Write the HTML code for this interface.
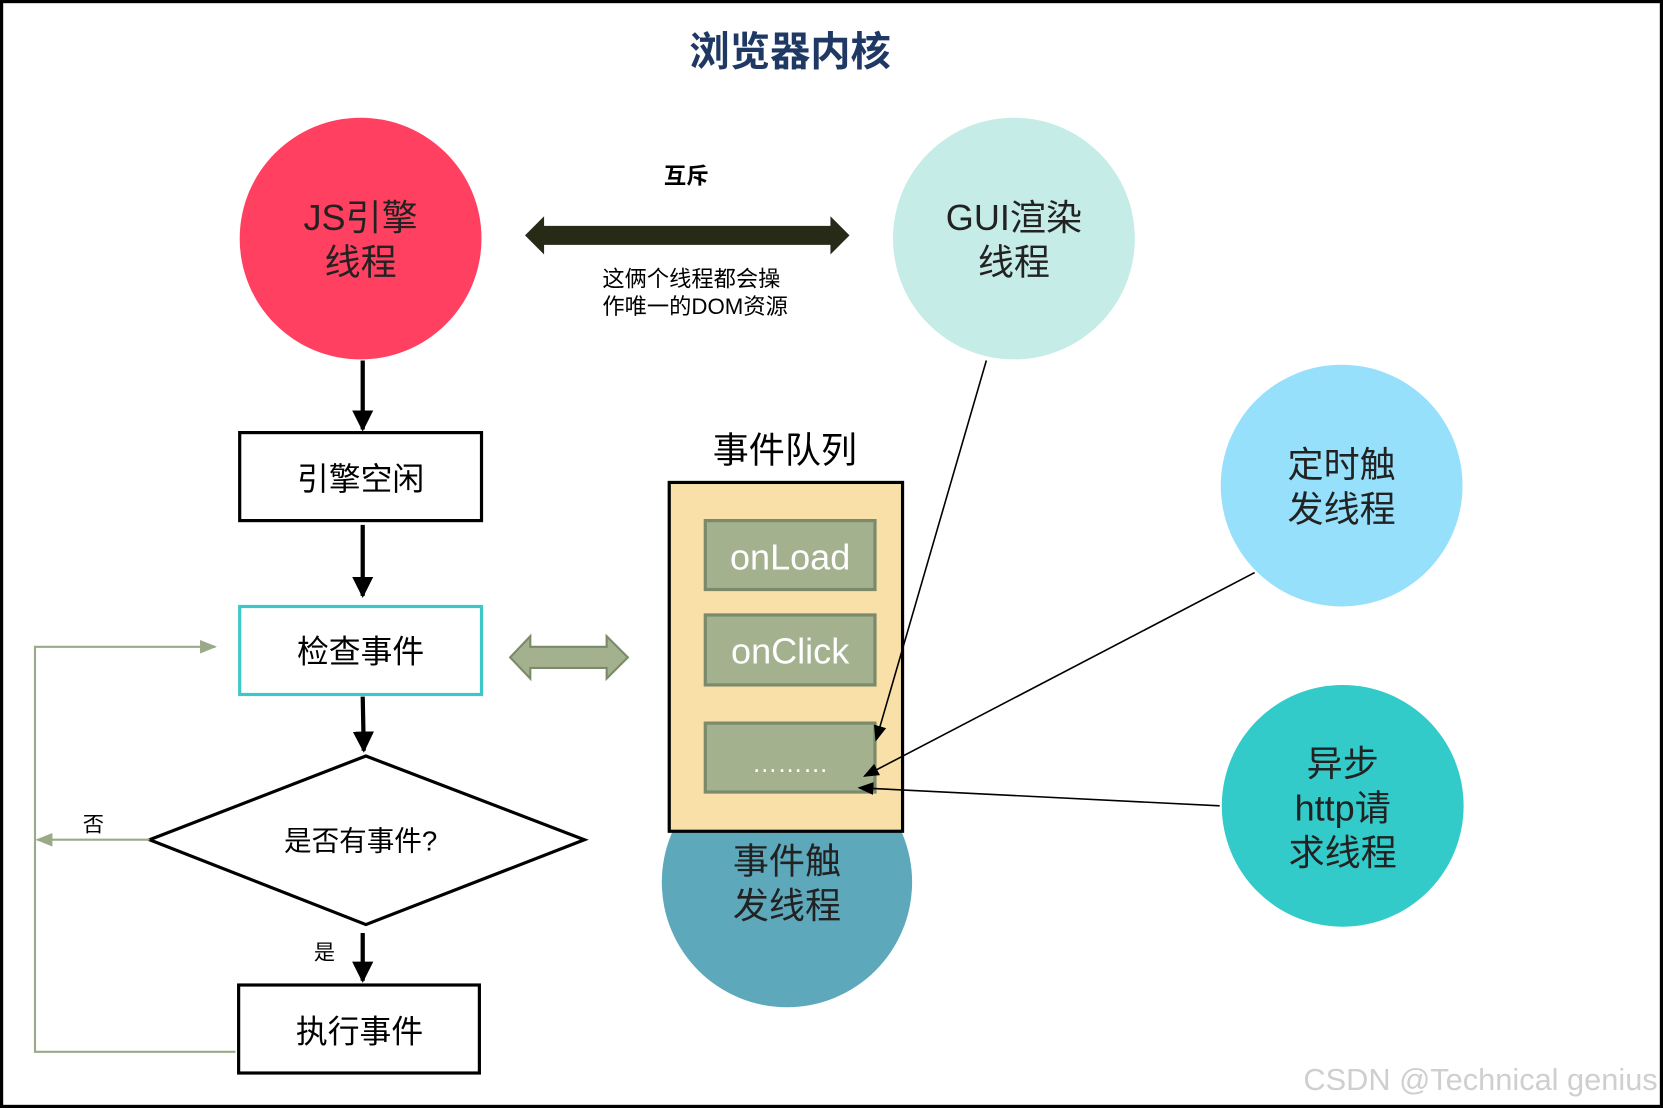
<!DOCTYPE html>
<html><head><meta charset="utf-8"><style>
html,body{margin:0;padding:0;background:#fff;}
svg{display:block;}
text{font-family:"Liberation Sans","Noto Sans CJK SC",sans-serif;}
</style></head><body>
<svg width="1663" height="1108" viewBox="0 0 1568 1045" preserveAspectRatio="none" xmlns="http://www.w3.org/2000/svg">
<defs>
<marker id="ab" viewBox="0 0 10 10" refX="9" refY="5" markerWidth="5" markerHeight="5" orient="auto"><path d="M0,0 L10,5 L0,10 z" fill="#000"/></marker>
<marker id="at" viewBox="0 0 10 10" refX="9" refY="5" markerWidth="10" markerHeight="10" orient="auto"><path d="M0,1 L10,5 L0,9 z" fill="#000"/></marker>
<marker id="ag" viewBox="0 0 10 10" refX="9" refY="5" markerWidth="8" markerHeight="8" orient="auto"><path d="M0,1 L10,5 L0,9 z" fill="#9aaa88"/></marker>
</defs>
<rect x="1.5" y="1.5" width="1565" height="1042" fill="#fff" stroke="#000" stroke-width="3"/>
<text x="745" y="62" font-size="38" font-weight="bold" fill="#1f3864" text-anchor="middle">浏览器内核</text>

<circle cx="340" cy="225" r="114" fill="#ff4060"/>
<text x="340" y="217" font-size="34" text-anchor="middle" fill="#222">JS引擎</text>
<text x="340" y="259" font-size="34" text-anchor="middle" fill="#222">线程</text>
<circle cx="956" cy="225" r="114" fill="#c5ece6"/>
<text x="956" y="217" font-size="34" text-anchor="middle" fill="#222">GUI渲染</text>
<text x="956" y="259" font-size="34" text-anchor="middle" fill="#222">线程</text>

<text x="647" y="173" font-size="21" font-weight="bold" text-anchor="middle">互斥</text>
<path d="M495,222 L513,204 L513,213 L783,213 L783,204 L801,222 L783,240 L783,231 L513,231 L513,240 z" fill="#272a16"/>
<text x="568" y="270" font-size="21">这俩个线程都会操</text>
<text x="568" y="296" font-size="21">作唯一的DOM资源</text>

<line x1="342" y1="340" x2="342" y2="405" stroke="#000" stroke-width="4" marker-end="url(#ab)"/>
<rect x="226" y="408" width="228" height="83" fill="#fff" stroke="#000" stroke-width="3"/>
<text x="340" y="462" font-size="30" text-anchor="middle">引擎空闲</text>
<line x1="342" y1="495" x2="342" y2="562" stroke="#000" stroke-width="4" marker-end="url(#ab)"/>
<rect x="226" y="572" width="228" height="83" fill="#fff" stroke="#3cc8c8" stroke-width="3"/>
<text x="340" y="625" font-size="30" text-anchor="middle">检查事件</text>
<line x1="342" y1="657" x2="343" y2="708" stroke="#000" stroke-width="4" marker-end="url(#ab)"/>
<polygon points="141,792 345,713 551,792 345,872" fill="#fff" stroke="#000" stroke-width="3"/>
<text x="340" y="802" font-size="26" text-anchor="middle">是否有事件?</text>
<text x="88" y="784" font-size="20" text-anchor="middle">否</text>
<line x1="141" y1="792" x2="35" y2="792" stroke="#9aaa88" stroke-width="2" marker-end="url(#ag)"/>
<polyline points="222,992 33,992 33,610 203,610" fill="none" stroke="#9aaa88" stroke-width="2" marker-end="url(#ag)"/>
<text x="306" y="905" font-size="20" text-anchor="middle">是</text>
<line x1="342" y1="880" x2="342" y2="925" stroke="#000" stroke-width="4" marker-end="url(#ab)"/>
<rect x="225" y="929" width="227" height="83" fill="#fff" stroke="#000" stroke-width="3"/>
<text x="339" y="983" font-size="30" text-anchor="middle">执行事件</text>

<path d="M481,620 L500,600 L500,610 L572,610 L572,600 L592,620 L572,640 L572,630 L500,630 L500,640 z" fill="#a3b18e" stroke="#7a8a6a" stroke-width="2"/>

<text x="740" y="436" font-size="34" text-anchor="middle">事件队列</text>
<circle cx="742" cy="832" r="118" fill="#5ea8bc"/>
<rect x="631" y="455" width="220" height="329" fill="#f8e0a8" stroke="#000" stroke-width="3"/>
<text x="742" y="824" font-size="34" text-anchor="middle" fill="#222">事件触</text>
<text x="742" y="866" font-size="34" text-anchor="middle" fill="#222">发线程</text>
<rect x="665" y="491" width="160" height="65" fill="#a3b18e" stroke="#7a8a6a" stroke-width="3"/>
<text x="745" y="537" font-size="34" text-anchor="middle" fill="#fff">onLoad</text>
<rect x="665" y="580" width="160" height="66" fill="#a3b18e" stroke="#7a8a6a" stroke-width="3"/>
<text x="745" y="626" font-size="34" text-anchor="middle" fill="#fff">onClick</text>
<rect x="665" y="682" width="160" height="65" fill="#a3b18e" stroke="#7a8a6a" stroke-width="3"/>
<text x="745" y="728" font-size="24" text-anchor="middle" fill="#fff">………</text>

<circle cx="1265" cy="458" r="114" fill="#96e0fc"/>
<text x="1265" y="450" font-size="34" text-anchor="middle" fill="#222">定时触</text>
<text x="1265" y="492" font-size="34" text-anchor="middle" fill="#222">发线程</text>
<circle cx="1266" cy="760" r="114" fill="#33cbc9"/>
<text x="1266" y="732" font-size="34" text-anchor="middle" fill="#222">异步</text>
<text x="1266" y="774" font-size="34" text-anchor="middle" fill="#222">http请</text>
<text x="1266" y="816" font-size="34" text-anchor="middle" fill="#222">求线程</text>

<line x1="930" y1="340" x2="826" y2="698" stroke="#000" stroke-width="1.5" marker-end="url(#at)"/>
<line x1="1183" y1="540" x2="815" y2="732" stroke="#000" stroke-width="1.5" marker-end="url(#at)"/>
<line x1="1150" y1="760" x2="810" y2="743" stroke="#000" stroke-width="1.5" marker-end="url(#at)"/>

<text x="1563" y="1028" font-size="29" text-anchor="end" fill="#cfcfcf">CSDN @Technical genius</text>
</svg>
</body></html>
